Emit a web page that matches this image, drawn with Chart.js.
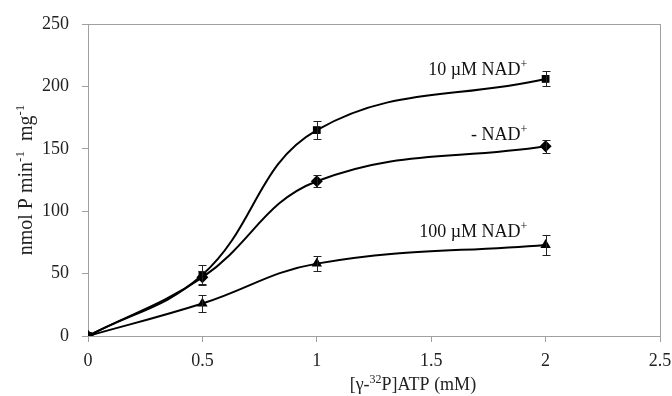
<!DOCTYPE html>
<html>
<head>
<meta charset="utf-8">
<script src="https://cdn.jsdelivr.net/npm/chart.js@4"></script>
<style>
  html, body { margin: 0; padding: 0; background: #fff; }
  #wrap { width: 672px; height: 396px; }
</style>
</head>
<body>
<div id="wrap"><canvas id="c" width="672" height="396"></canvas></div>
<script>
const ATP      = [0, 0.5, 1, 2];
const NAD10    = [0, 49, 165, 206];
const NAD10Err = [0, 8, 7, 6];
const NONE     = [0, 47, 124, 152];
const NONEErr  = [0, 5, 5, 5];
const NAD100   = [0, 26, 58, 73];
const NAD100Err= [0, 7, 6, 8];

const SERIF = "'Liberation Serif', 'DejaVu Serif', serif";
const FS = 18;

// rich text runs: [text, isSuperscript]
const xTitle = [['[\u03b3-', 0], ['32', 1], ['P]ATP (mM)', 0]];
const yTitle = [['nmol P min', 0], ['-1', 1], ['  mg', 0], ['-1', 1]];

// series labels, anchored (right edge) in data units
const notes = [
  { runs: [['10 \u00b5M NAD', 0], ['+', 1]],  x: 1.92, y: 214 },
  { runs: [['- NAD', 0], ['+', 1]],           x: 1.92, y: 162 },
  { runs: [['100 \u00b5M NAD', 0], ['+', 1]], x: 1.92, y: 84 },
];

const pts = ys => ATP.map((x, i) => ({ x, y: ys[i] }));

function series(label, ys, errs, style, radius) {
  return {
    label, data: pts(ys), errs,
    borderColor: '#000', backgroundColor: '#000', borderWidth: 2,
    pointStyle: style, pointRadius: radius, pointBorderWidth: 0,
    tension: 0.4, fill: false,
  };
}

function runWidth(ctx, runs, fs) {
  let w = 0;
  runs.forEach(([t, sup]) => {
    ctx.font = (sup ? Math.round(fs * 0.65) : fs) + 'px ' + SERIF;
    w += ctx.measureText(t).width;
  });
  return w;
}

// draws runs starting at x0, baseline y
function drawRuns(ctx, runs, x0, y, fs) {
  let x = x0;
  runs.forEach(([t, sup]) => {
    ctx.font = (sup ? Math.round(fs * 0.65) : fs) + 'px ' + SERIF;
    ctx.fillText(t, x, sup ? y - fs * 0.38 : y);
    x += ctx.measureText(t).width;
  });
}

const extras = {
  id: 'extras',
  beforeDatasetsDraw(chart) {
    const { ctx, chartArea: a } = chart;
    ctx.save();
    ctx.strokeStyle = '#a0a0a0';
    ctx.lineWidth = 1;
    ctx.strokeRect(a.left + 0.5, a.top + 0.5, a.right - a.left, a.bottom - a.top);
    ctx.restore();
  },
  afterDatasetsDraw(chart) {
    const { ctx, chartArea: a, scales: { x, y } } = chart;
    ctx.save();
    ctx.strokeStyle = '#222';
    ctx.lineWidth = 1;
    chart.data.datasets.forEach(ds => {
      ds.data.forEach((p, i) => {
        const e = ds.errs[i];
        if (!e) return;
        const px = Math.round(x.getPixelForValue(p.x)) + 0.5;
        const y1 = Math.round(y.getPixelForValue(p.y - e)) + 0.5;
        const y2 = Math.round(y.getPixelForValue(p.y + e)) + 0.5;
        ctx.beginPath();
        ctx.moveTo(px, y1); ctx.lineTo(px, y2);
        ctx.moveTo(px - 4, y1); ctx.lineTo(px + 4, y1);
        ctx.moveTo(px - 4, y2); ctx.lineTo(px + 4, y2);
        ctx.stroke();
      });
    });

    ctx.fillStyle = '#111';
    ctx.textAlign = 'left';
    ctx.textBaseline = 'alphabetic';
    notes.forEach(n => {
      const w = runWidth(ctx, n.runs, FS);
      drawRuns(ctx, n.runs, x.getPixelForValue(n.x) - w, y.getPixelForValue(n.y) + FS * 0.33, FS);
    });

    // axis titles
    ctx.fillStyle = '#222';
    const xw = runWidth(ctx, xTitle, FS);
    drawRuns(ctx, xTitle, x.getPixelForValue(1.42) - xw / 2, 390, FS);

    const yw = runWidth(ctx, yTitle, 20);
    ctx.translate(32, (a.top + a.bottom) / 2);
    ctx.rotate(-Math.PI / 2);
    drawRuns(ctx, yTitle, -yw / 2, 0, 20);
    ctx.restore();
  }
};

new Chart(document.getElementById('c'), {
  type: 'line',
  data: {
    datasets: [
      series('100 \u00b5M NAD+', NAD100, NAD100Err, 'triangle', 6),
      series('- NAD+', NONE, NONEErr, 'rectRot', 6),
      series('10 \u00b5M NAD+', NAD10, NAD10Err, 'rect', 5.5),
    ]
  },
  options: {
    responsive: false,
    animation: false,
    layout: { padding: { top: 24, right: 0, left: 0, bottom: 0 } },
    plugins: { legend: { display: false }, tooltip: { enabled: false } },
    scales: {
      x: {
        type: 'linear', min: 0, max: 2.5,
        ticks: { stepSize: 0.5, color: '#222', font: { family: SERIF, size: FS }, padding: 8,
                 callback: v => String(v) },
        grid: { drawOnChartArea: false, drawTicks: true, tickLength: 6, color: '#a0a0a0' },
        border: { color: '#a0a0a0' },
        afterFit(s) { s.height = 60; s.paddingRight = 12; s.paddingLeft = 0; }
      },
      y: {
        min: 0, max: 250,
        ticks: { stepSize: 50, color: '#222', font: { family: SERIF, size: FS }, padding: 13 },
        grid: { drawOnChartArea: false, drawTicks: true, tickLength: 6, color: '#a0a0a0' },
        border: { color: '#a0a0a0' },
        afterFit(s) { s.width = 88; }
      }
    }
  },
  plugins: [extras]
});
</script>
</body>
</html>
